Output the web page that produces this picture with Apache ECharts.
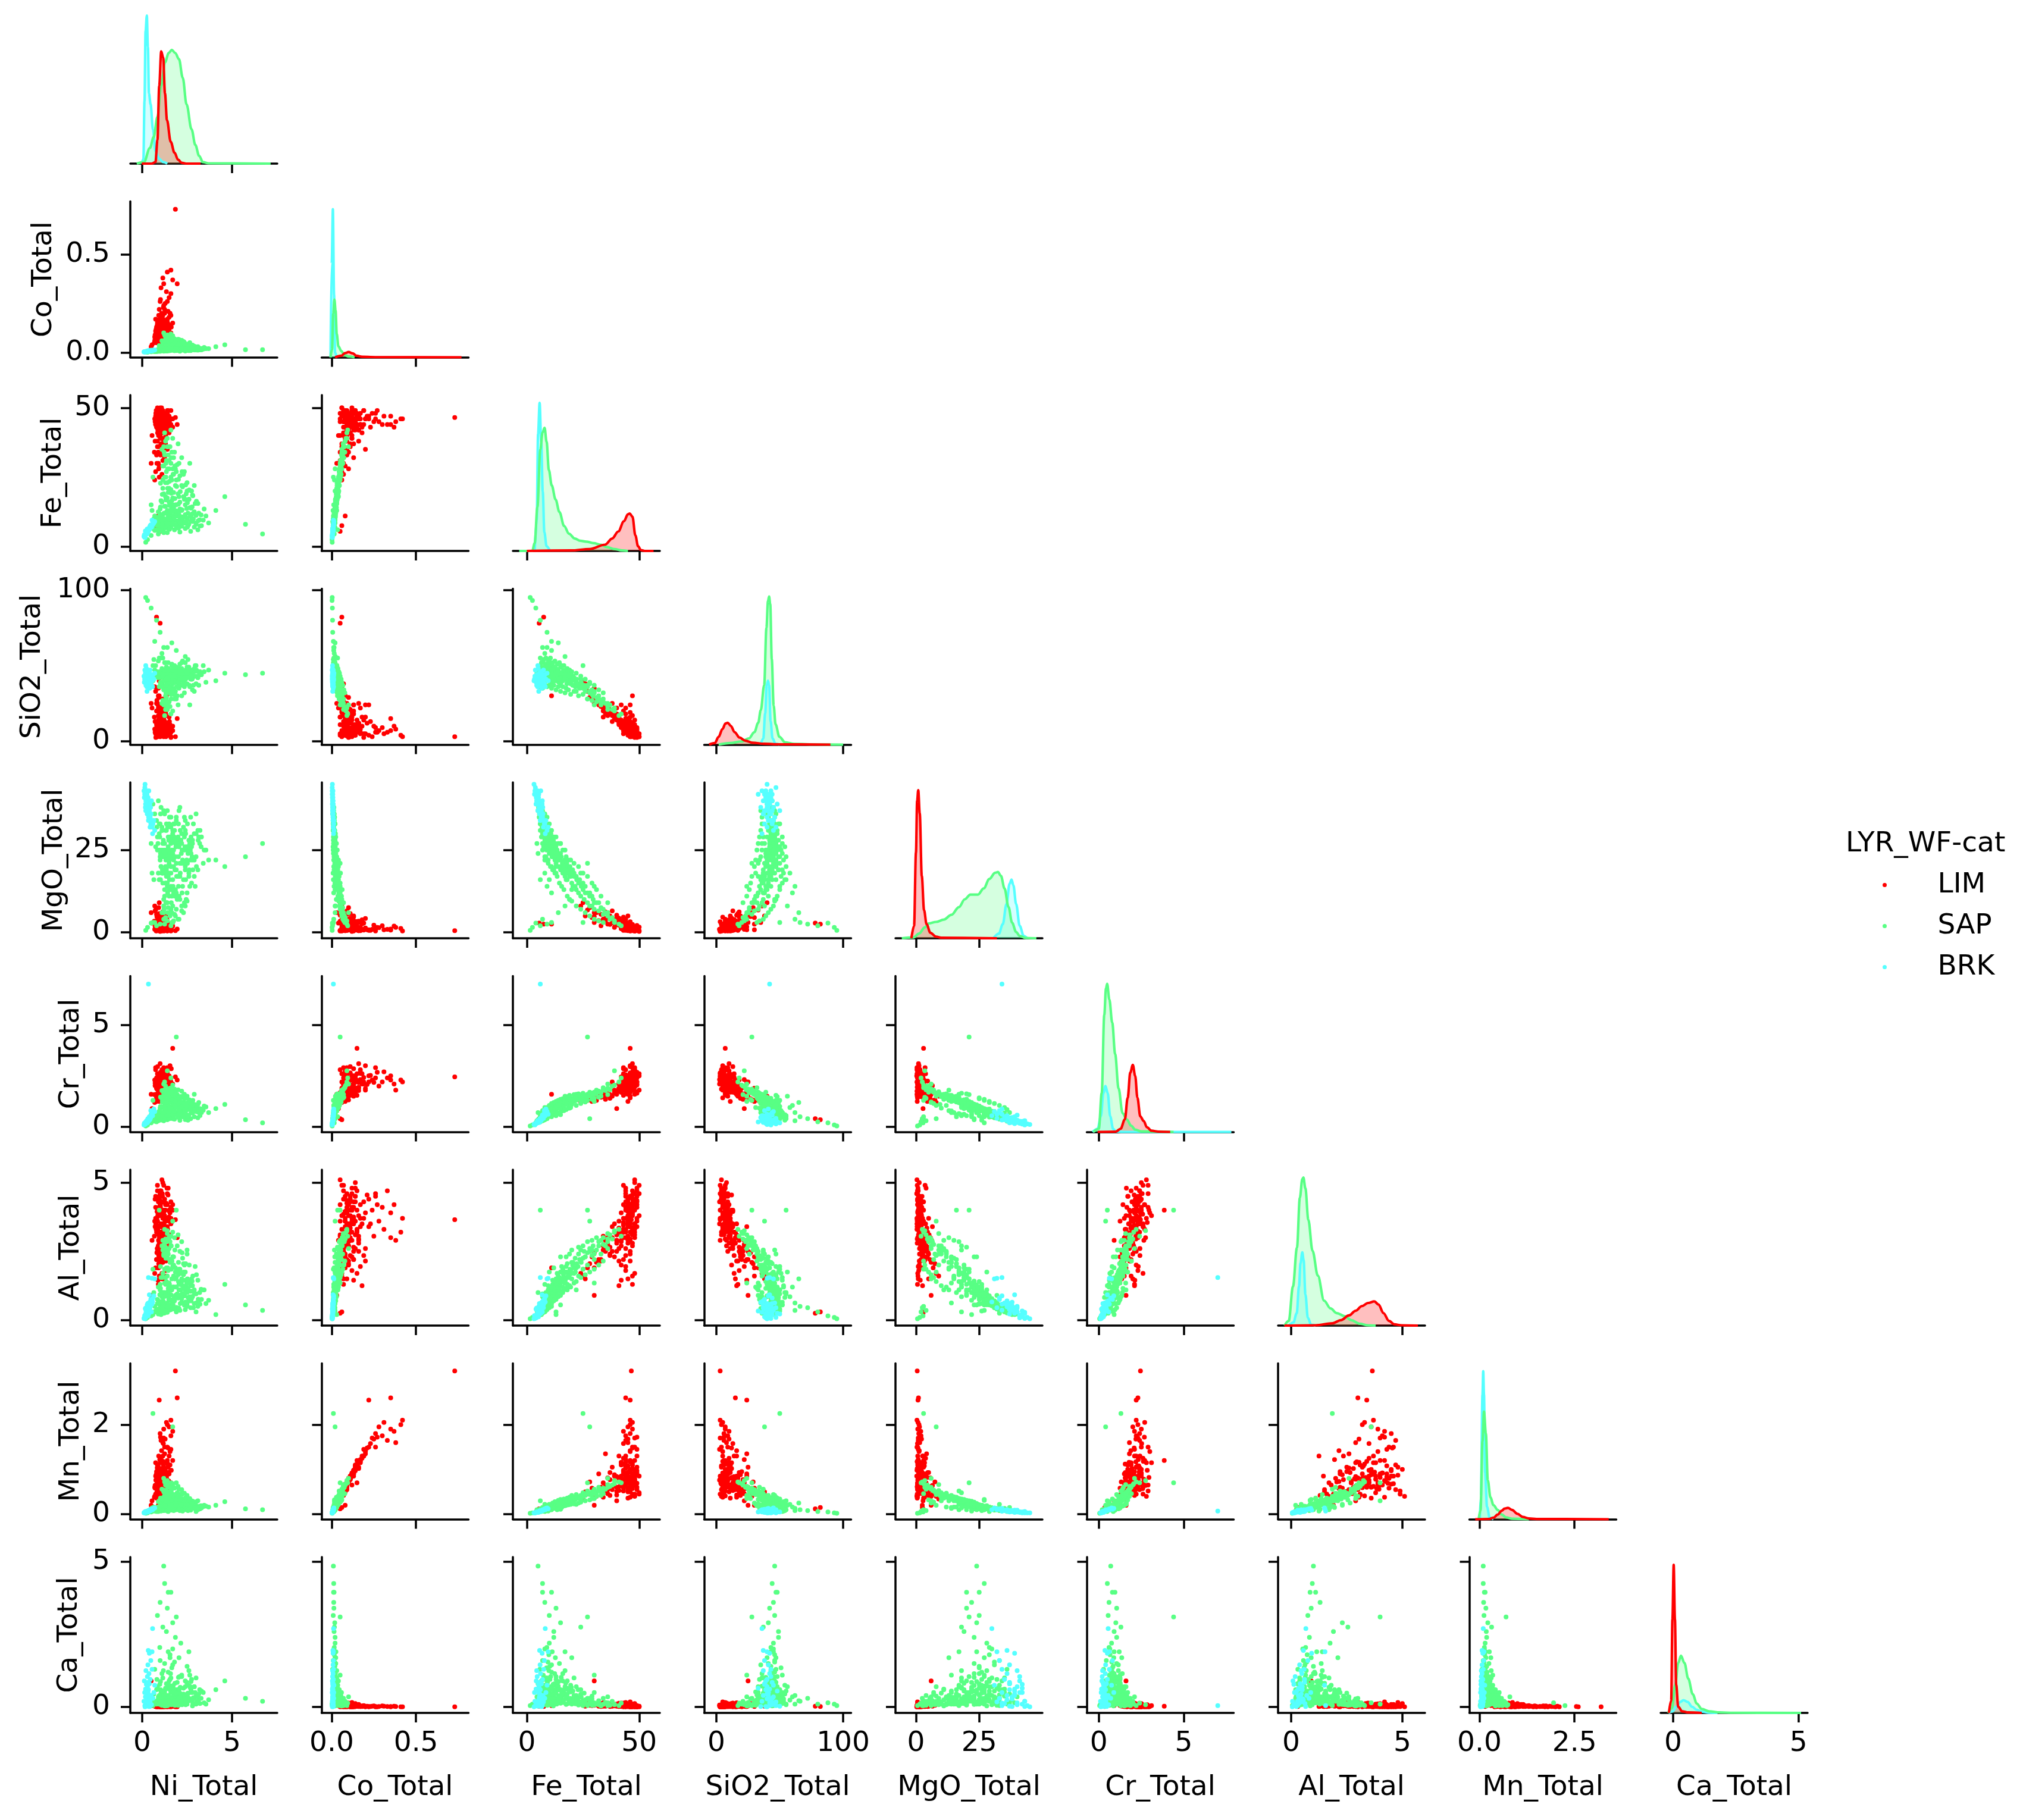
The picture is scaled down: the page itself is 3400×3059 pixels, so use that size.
<!DOCTYPE html>
<html><head><meta charset="utf-8">
<script src="https://cdn.jsdelivr.net/npm/echarts@6/dist/echarts.min.js"></script>
<style>html,body{margin:0;background:#fff}#c{width:3400px;height:3059px}</style></head>
<body><div id="c"></div>
<script>
const variables=['Ni_Total','Co_Total','Fe_Total','SiO2_Total','MgO_Total','Cr_Total','Al_Total','Mn_Total','Ca_Total'];
const xTicks=[[0,5],[0,.5],[0,50],[0,100],[0,25],[0,5],[0,5],[0,2.5],[0,5]];
const yTicks=[[],[0,.5],[0,50],[0,100],[0,25],[0,5],[0,5],[0,2],[0,5]];
const xDecimals=[0,1,0,0,0,0,0,1,0];
const yDecimals=[0,1,0,0,0,0,0,0,0];
const xLimits=[[-.66,7.52],[-.06,.812],[-6.2,59.2],[-9.6,106.3],[-8.1,50],[-.71,7.94],[-.59,6.02],[-.265,3.6],[-.5,5.36]];
const yLimits=[[0,100],[-.024,.77],[-1.6,54.6],[-2.2,100.8],[-1.8,45.6],[-.245,7.39],[-.2,5.47],[-.113,3.37],[-.2,5.16]];
const yNameGaps=[0,122,106,141,104,76,76,76,79];

// columns: Ni, Co, Fe, SiO2, MgO, Cr, Al, Mn, Ca
const limRows=[
[1.1,.09,47,6,1.2,2.1,3.9,.7,.03],[.9,.11,48,5,.8,2.3,4.4,.8,.02],[1.3,.13,46,8,1.5,2,3.6,.95,.05],[1,.07,49,4,.6,2.4,4.7,.55,.01],
[.8,.1,45,9,2,1.9,3.4,.75,.04],[1.2,.15,44,10,1.8,2.2,3.2,1.05,.06],[1.5,.12,47,7,1,2.5,4,.9,.03],[.85,.06,50,3,.5,2.6,4.9,.45,.02],
[1.05,.08,43,11,2.5,1.8,3,.6,.08],[1.4,.17,48,6,.9,2.7,4.2,1.2,.02],[.95,.14,46,7,1.3,1.7,4.5,1,.04],[1.15,.19,49,5,.7,2.2,3.7,1.3,.03],
[.75,.09,47,5,1.1,2.9,4.1,.65,.02],[1.25,.11,45,8,2.2,1.6,3.8,.85,.1],[1.6,.1,46,6,1.6,2.4,3.5,.7,.13],[.9,.13,44,9,3,2,4.3,.9,.05],
[1.1,.05,48,4,.4,2.8,5.1,.4,.01],[1.35,.16,42,12,3.4,1.9,2.9,1.15,.09],[.7,.08,46,8,.9,2.3,3.6,.6,.06],[1,.12,50,3,.3,2.5,4.6,.85,.01],
[1.2,.1,47,9,1.9,2.1,3.3,.8,.07],[.95,.07,45,10,2.7,2,2.8,.5,.11],[1.45,.14,49,4,.8,2.2,4.8,1.05,.02],[1.05,.18,43,10,3.8,2.6,3.5,1.25,.04],
[.8,.12,48,7,1.4,2.4,3.2,.9,.03],[1.3,.09,44,12,2.1,1.8,4,.65,.12],[1.55,.2,46,5,1.2,3,3.9,1.4,.02],[.85,.15,47,6,.7,1.9,4.7,1.1,.05],
[1.15,.06,48,6,1,2.2,3.1,.45,.08],[1,.1,45,7,1.7,2.3,4.2,.75,.03],[1.25,.22,47,4,.6,2.5,4.4,1.5,.01],[.9,.09,42,13,2.9,1.7,2.7,.7,.14],
[1.4,.08,49,5,.5,2.6,3.4,.6,.04],[1.1,.13,46,9,2.3,2.1,2.5,.95,.09],[.75,.17,44,8,1.6,2.8,3.7,1.15,.02],[1.2,.24,48,3,.9,2.3,4,1.7,.03],
[1,.26,46,6,1.1,2.4,4.5,1.8,.01],[1.5,.28,45,7,1.4,2,3.6,1.95,.02],[1.35,.31,47,5,.8,2.7,3.3,2.05,.03],[1.6,.3,44,9,2,2.2,4.1,1.75,.04],
[1.2,.35,47,7,.7,2.5,3.9,1.9,.02],[1.4,.41,46,4,1.2,2.3,3.2,2,.01],[1.15,.38,45,8,1.5,1.8,2.9,1.6,.02],[1.7,.37,43,10,1.9,2.1,4.2,1.85,.03],
[1.6,.42,46,3,.4,2.2,3.7,2.1,.01],[1.05,.33,44,6,.9,2.4,4.7,1.65,.02],[.95,.22,46,24,.8,2.2,3.4,2.55,.02],[1.95,.35,44,15,1,2.3,3,2.6,.01],
[1.85,.73,46.5,3,.5,2.45,3.65,3.2,.01],[1.7,.15,46,7,3,3.85,4,1.2,.03],
[1,.09,40,15,3.5,1.7,2.8,.6,.1],[1.2,.08,38,17,3,1.5,3,.55,.05],[.85,.07,36,20,4.5,1.6,2.6,.55,.09],[1.1,.11,41,14,2.2,1.9,3.2,.8,.03],
[1.3,.06,37,19,5,1.4,2.4,.42,.12],[.9,.1,34,22,4,1.5,2.7,.7,.06],[1.05,.12,39,16,1.5,1.8,3.5,.85,.04],[.8,.09,33,25,5.5,1.45,2.2,.6,.11],
[1.4,.07,35,21,3.5,1.35,2.5,.5,.15],[1.15,.05,31,28,6,1.3,2.1,.4,.08],[.95,.08,29,30,4.5,1.25,2.3,.58,.05],[.75,.06,27,33,6.8,1.3,1.9,.45,.13],
[1,.1,42,12,1.3,2.2,2,.8,.04],[1.2,.09,45,15,.9,2,1.5,.55,.02],[.9,.07,47,17,.6,2.1,1.3,.42,.03],[1.3,.12,44,18,1.1,2.3,1.8,.65,.05],
[.8,.13,43,20,2,1.9,2.2,.95,.01],[1.1,.15,48,14,.7,2.6,1.7,.7,.03],[1,.08,46,19,1.4,2,2.4,.5,.06],[1.5,.18,41,16,2.6,2.1,1.25,1.3,.02],
[.85,.16,38,25,3,2.2,2.5,1.05,.04],[1.25,.2,35,24,4.2,1.8,2.6,1.35,.03],[1.55,.14,42,11,1.9,1.7,3.1,1.1,.09],[1.35,.06,47,30,.8,1.9,1.6,.45,.02],
[.7,.06,24,36,8,1.2,1.7,.4,.1],[.9,.05,30,35,3,1.4,1.9,.36,.06],[1.1,.07,26,38,5,1.35,1.5,.5,.03],[.75,.11,44,6,2.4,2.3,4.5,.85,.09],
[1,.16,47,10,1,3.1,3.8,1.15,.05],[.8,.05,45,11,.5,1.25,3.6,.36,.07],[1.2,.07,43,7,3.6,2.9,4.9,.52,.02],[1.15,.14,48,8,1.3,2.5,5,1,.12],
[1.4,.26,48,9,.4,2.9,4.6,1.5,.02],[1.6,.19,49,2.5,.9,2.1,4.3,1.45,.04],[.95,.05,25,40,9,1.5,1.6,.34,.2],[.55,.04,40,22,2.8,.9,2.9,.3,.05],
[.8,.06,7.5,82,2.5,.35,.3,.15,.02],[1,.05,5.5,78,2.8,.4,.25,.12,.03],[.9,.08,11,30,2.5,1.6,1.9,.2,.05],[.5,.03,30,25,6,1.6,.9,.2,.9],
[.82,.08,46,9,.5,1.5,3.7,.62,.02],[.92,.1,47,4,2.4,1.85,3.1,.72,.06],[1.02,.12,49,7,1.5,1.65,4.1,.92,.01],[1.12,.09,44,6,.6,2.55,4.6,.68,.09],
[1.22,.13,48,11,.4,1.75,3.5,.98,.04],[1.32,.11,46,3,3.2,2.65,2.9,.78,.02],[1.42,.15,43,8,.8,1.55,3.3,1.12,.07],[.72,.07,45,6,1.9,2.15,4.4,.58,.03],
[.78,.12,49,8,2.1,2.05,3.6,.88,.05],[.88,.09,42,9,1.2,2.45,3.9,.66,.11],[.98,.16,47,12,.5,1.95,2.8,1.02,.02],[1.08,.06,50,5,1.6,1.8,3.8,.48,.03],
[1.18,.14,45,4,2.6,2.35,4.3,1.08,.08],[1.28,.08,48,10,.7,2.75,3,.64,.02],[1.38,.12,44,7,4,1.62,4.8,.87,.16],[1.48,.1,47,8,1.8,2.05,2.7,.74,.04],
[.86,.11,46,13,1,2.95,4,.82,.01],[.96,.08,43,5,4.6,2.25,3.2,.59,.06],[1.06,.14,49,9,1.1,1.72,4.5,.97,.02],[1.16,.17,46,5,.5,2.62,3.4,1.18,.03],
[1.26,.07,41,13,3.1,2.12,2.6,.53,.13],[1.36,.13,45,11,5,1.9,3.7,.93,.05],[.76,.1,48,2.5,.9,2.32,3.5,.76,.07],[.84,.14,44,11,1.4,2.42,2.6,1.03,.02],
[.94,.05,40,16,5.2,1.68,3.1,.43,.1],[1.04,.11,37,21,2.4,1.58,2.35,.77,.04],[1.14,.09,35,18,6.2,1.75,2.9,.62,.08],[1.24,.13,32,24,3.6,1.5,2.2,.9,.03],
[.82,.07,30,27,4.8,1.38,2.45,.5,.12],[.92,.1,28,29,7.5,1.32,2.05,.72,.06],[1.02,.08,33,23,2,1.48,2.15,.57,.02],[1.12,.12,39,19,4,1.72,2.3,.88,.07],
[1.22,.06,36,22,2.5,1.62,2.75,.46,.05],[1.32,.1,41,17,3.3,1.82,2.15,.73,.09],[.72,.09,38,13,6.5,2.02,3.4,.64,.03],[.68,.05,34,16,3.4,1.58,3.05,.38,.15],
[.88,.13,42,24,1.7,2.12,1.45,.85,.02],[.98,.17,44,22,.9,2.32,1.95,1.22,.03],[1.08,.2,46,16,1.3,1.88,2.15,1.42,.01],[1.18,.23,43,13,.6,2.52,3.5,1.58,.02],
[1.28,.25,45,10,2.2,2.18,3.05,1.68,.04],[1.02,.27,49,6,1.5,2.68,4.2,1.72,.01],[1.44,.21,47,12,.8,2.08,4.55,1.48,.03],[.92,.19,44,14,2.8,2.42,2.35,1.3,.05],
[1.3,.05,46,5,.6,1.42,4.2,.38,.18],[.78,.06,48,7,.4,1.6,3.3,.41,.06],[1.52,.08,45,13,.7,2.2,3.95,.56,.02],[1.62,.13,43,9,1.2,2.85,3.55,.98,.08],
[.87,.1,46,6,1,2.2,3.8,.78,.02],[.97,.12,47,8,1.6,2.05,4,.88,.03],[1.07,.09,45,7,.8,2.3,3.5,.71,.05],[1.17,.11,48,5,1.3,1.95,4.3,.83,.01],
[1.27,.14,46,9,2,2.4,3.6,1,.04],[1.37,.1,44,6,1.1,2.1,3.3,.79,.06],[.83,.08,47,10,1.7,1.85,3.95,.66,.02],[.93,.13,45,5,2.3,2.5,4.1,.92,.03],
[1.03,.1,48,7,.7,2.15,3.4,.76,.08],[1.13,.08,46,4,1.4,2.35,4.5,.67,.02],[1.23,.12,43,9,2.6,1.98,3.7,.9,.05],[1.33,.09,47,6,.9,2.25,4.25,.73,.1],
[.89,.15,44,11,3.3,2.28,3.25,1.08,.03],[.99,.09,49,3.5,.6,2.45,4.35,.69,.01],[1.09,.16,42,10,1.5,1.78,3.05,1.16,.07],[1.19,.07,47,11,2.1,2.58,3.85,.57,.02],
[1.29,.11,41,12,4.3,1.88,3.35,.82,.12],[1.39,.16,46,7,.5,2.18,2.95,1.17,.04],[1.49,.13,45,9,1.2,2.38,3.75,.94,.06],[.81,.1,43,8,2.2,2.08,3.45,.77,.14],
[.91,.12,40,14,3.9,1.76,2.9,.84,.03],[1.01,.08,39,15,2.7,1.66,3.2,.63,.06],[1.11,.13,37,18,4.7,1.56,2.65,.93,.02],[1.21,.1,42,14,1.1,1.96,2.85,.79,.09],
[1.31,.07,40,18,2.3,1.6,2.5,.51,.04],[.86,.08,41,11,3,1.9,3.6,.61,.05],[.96,.11,36,17,5.7,1.55,3,.81,.11],[1.06,.06,34,20,3.8,1.48,2.55,.47,.03]
];
const sapRows=[
[.9,.006,4.5,44,40,.3,.22,.06,.35],[1.4,.008,5,46,37,.35,.28,.07,.8],[2.1,.007,5.2,43,38,.32,.35,.08,.25],[2.7,.01,5.5,41,35,.4,.45,.09,.5],
[.7,.005,5.8,47,36,.28,.3,.07,1.3],[1.8,.009,6,50,33,.38,.4,.09,.6],[3.1,.012,6,42,31,.45,.5,.1,.2],[1.2,.007,6.3,44,37,.42,.25,.08,.45],
[2.4,.008,6.5,45,34,.36,.38,.1,.9],[.6,.006,6.5,40,39,.3,.2,.07,.15],[1.6,.011,6.8,43,32,.55,.42,.11,.3],[2.9,.013,7,48,30,.5,.6,.13,.7],
[1,.009,7,46,33,.44,.55,.1,1.6],[1.9,.01,7.2,41,35,.6,.3,.1,.4],[2.2,.012,7.3,52,27,.62,.65,.12,1.1],[3.3,.014,7.5,44,29,.7,.75,.14,.55],
[1.3,.008,7.5,47,31,.48,.48,.09,.25],[.8,.01,7.8,43,34,.55,.35,.11,.6],[1.7,.013,8,45,30,.65,.52,.13,2],[2.6,.01,8,49,28,.58,.7,.12,.3],
[1.5,.012,8.1,42,33,.5,.4,.1,.75],[2,.014,8.3,46,29,.72,.8,.15,.45],[.75,.008,8.3,50,26,.46,.33,.11,.2],[3,.016,8.5,43,30,.75,.62,.14,1],
[1.1,.011,8.5,48,31,.6,.45,.12,.35],[2.3,.012,8.7,44,32,.52,.9,.13,.65],[1.65,.015,8.8,51,25,.8,.58,.16,1.35],[2.8,.018,9,46,27,.68,.85,.17,.5],
[1.35,.013,9,41,31,.7,.5,.12,.28],[1.95,.016,9.2,47,28,.63,.95,.15,.85],[.95,.012,9.3,45,30,.77,.68,.14,.4],[2.5,.014,9.5,49,26,.85,.6,.16,.18],
[3.2,.02,9.6,44,27,.9,1,.18,.6],[1.55,.015,9.8,46,29,.66,.72,.14,1.8],[2.15,.018,10,42,28,.82,1.1,.19,.33],[1.25,.013,10,52,24,.7,.55,.15,.5],
[2.75,.02,10.3,45,26,.92,.78,.17,.95],[1.75,.017,10.5,48,25,.75,1.2,.18,.42],[.85,.014,10.5,44,29,.62,.6,.16,.7],[2.35,.016,10.8,40,29,.88,.88,.15,.25],
[1.45,.019,11,46,26,.8,1.05,.2,1.2],[3,.022,11.2,50,23,1,.95,.19,.38],[2.05,.018,11.5,43,26,.95,1.3,.2,.6],[1.15,.016,11.5,47,27,.72,.7,.17,.15],
[2.55,.021,12,45,24,.9,1.15,.22,.48],[1.85,.02,12,49,23,1.05,.82,.19,2.4],[1.35,.018,12.3,42,25,.85,1.4,.21,.8],[2.9,.024,12.5,46,22,1.1,1,.23,.3],
[1.6,.02,13,44,24,.78,.92,.2,.55],[2.2,.023,13,48,21,1,1.5,.24,1.05],[1,.017,13.5,45,23,.92,1.1,.19,.22],[2.7,.025,14,43,22,.98,1.25,.26,.68],
[1.75,.022,14,47,20,1.15,1.6,.23,.4],[1.25,.024,14.5,41,23,1.05,1.35,.25,1.5],[2.4,.026,15,44,20,.95,1.05,.22,.27],[1.9,.021,15,49,19,1.2,1.75,.28,.6],
[3.1,.03,15.5,42,19,1.1,1.45,.3,.35],[1.5,.025,16,46,18,1,1.2,.24,.9],[2.1,.028,16,40,21,1.25,1.85,.29,.2],[1.05,.022,16.5,44,20,.95,1.55,.26,.5],
[2.6,.03,17,43,18,1.15,1.4,.31,1.25],[1.7,.032,17.5,47,16,1.3,1.95,.3,.3],[1.3,.027,18,40,18,1.1,1.3,.28,.65],[2.3,.034,18,44,16,1.22,2.05,.33,.45],
[2,.031,19,42,17,1.35,1.65,.32,.18],[1.45,.036,19.5,38,17,1.18,1.8,.35,.75],[2.75,.035,20,41,15,1.28,1.5,.3,.28],[1.6,.033,20.5,43,14,1.4,2.1,.37,.55],
[1.15,.03,21,37,18,1.25,1.7,.31,1],[2.25,.04,21.5,40,14,1.45,2.25,.34,.22],[1.85,.038,22,39,13,1.3,1.9,.4,.4],[1.4,.035,23,36,15,1.42,1.6,.36,.15],
[2.5,.042,23,38,12,1.5,2.4,.38,.32],[1.65,.045,24,41,11,1.35,2.15,.42,.6],[1.25,.04,25,35,13,1.55,1.85,.4,.2],[2.1,.05,25.5,37,10,1.48,2.5,.45,.48],
[1.75,.046,26,33,12,1.4,2.3,.43,.12],[2.35,.052,27,36,9,1.6,2,.47,.3],[1.5,.048,28,32,11,1.52,2.6,.44,.25],[1.2,.055,29,34,8,1.65,2.35,.5,.38],
[1.95,.06,29.5,30,10,1.58,2.7,.48,.14],[1.6,.058,30,33,7,1.7,2.2,.52,.5],[1.35,.052,31,29,9,1.62,2.55,.46,.1],[2.2,.062,32,30,6.5,1.75,2.85,.55,.22],
[1.45,.065,33,26,7.5,1.68,2.4,.5,.08],[1.8,.07,34,28,5.5,1.85,3,.58,.3],[1.1,.06,35,25,6,1.78,2.7,.56,.16],[1.55,.075,36,23,5,1.9,2.85,.6,.12],
[2,.068,37,24,4,1.82,3.1,.62,.06],[1.3,.08,38,21,4.5,2,2.95,.65,.2],[1.7,.085,39,20,3,2.05,3.2,.68,.1],[1.25,.09,41,17,2.5,2.2,3.3,.72,.05],
[1.6,.095,42,18,2,2.4,3.05,.7,.14],[1.4,.09,39,22,3.5,2.75,3.25,.75,.08],[1.2,.1,36,24,6,2.1,2.6,.8,.35],
[2.45,.028,19,46,10,.92,1.25,.3,.18],[3.4,.018,9.5,50,21,.82,1.1,.17,.5],[3.55,.02,11,39,25,.98,.6,.18,.1],[3.7,.02,8.5,47,22,.7,.72,.16,.25],
[2.9,.032,22,33,17,1.6,1.1,.22,.7],[2.65,.05,30,24,14,1.25,1.35,.35,1.1],[.55,.008,13,44,18,.55,.3,.14,.12],[.5,.012,15,38,27,.6,.55,.11,.3],
[1.1,.015,8,58,18,.95,.85,.22,.24],[1.4,.014,9,62,14,.7,.62,.13,.1],[1.9,.012,11,60,12,1.05,1.2,.16,.35],[1.65,.02,14,65,6,1.2,1.5,.25,.22],
[2.4,.022,17,56,8,1.5,1.75,.2,.7],[.65,.01,10,54,16,.6,1,.16,.45],[.3,.002,2.5,93,1.5,.1,.1,.03,.1],[.2,.003,1.5,95,.6,.05,.05,.02,.05],
[.5,.004,4,88,2.8,.2,.15,.05,.15],[.8,.005,6,80,2,.25,.3,.06,.1],[1,.006,9,72,2.5,.4,.45,.08,.3],[.7,.01,11,66,3,.5,.5,.1,.2],[1.2,.012,7,62,4,.3,.35,.08,.4],
[6.7,.015,4.5,45,27,.2,.35,.1,.2],[5.75,.015,8,44,23,.35,.55,.12,.3],[4.6,.04,18,45,20,1.1,1.3,.28,.9],[4.1,.03,13,40,22,.9,.2,.2,.6],
[1.9,.05,27,28,21,4.4,4,.7,3.1],[1.2,.01,5,46,24,.7,1,.1,4.85],[1.25,.012,7,44,27,.5,.95,.1,4.25],[1.45,.011,7,48,25,.8,.85,.13,3.95],
[1.6,.014,11,47,20,.95,1.1,.15,3.95],[1,.012,8,45,22,.6,1.3,.11,3.6],[1.4,.013,13,42,20,1.05,.9,.17,3.4],[.85,.009,10,46,25,.55,.75,.12,3.15],
[1.7,.018,15,41,24,1,2.3,.22,2.9],[1.15,.016,24,37,18,1.3,2.55,.32,2.75],[1.35,.014,12,49,19,.9,1.9,.18,2.6],[2.6,.025,17,43,17,1.2,1.4,.26,1.9],
[2.15,.02,10,45,28,.75,1.75,.15,2.2],[1.55,.02,20,40,13,1.35,2.1,.3,1.7],[.95,.035,6,55,16,.5,4,.3,.1],[1.7,.02,28,38,8,.4,3.6,1.95,.15],
[.6,.01,25,50,3,1.3,1.85,2.25,.05],
[.95,.008,6,36,33,.55,.25,.12,.1],[1.45,.01,6.5,52,29,.48,.55,.06,.4],[2.05,.012,7,35,37,.7,.42,.15,.15],[2.55,.011,7.5,54,26,.33,.82,.08,.75],
[3,.013,8,38,36,.85,.3,.06,.1],[1.15,.014,8.5,55,23,.4,1,.2,.55],[1.6,.016,9,36,35,.95,.38,.09,1],[2.25,.015,9.5,53,22,.5,1.25,.07,.2],
[2.85,.019,10,37,33,1.05,.45,.22,.32],[1.05,.013,10.5,55,20,.55,.95,.1,.08],[1.7,.018,11,35,31,1.15,.62,.12,1.45],[2.4,.02,11.5,52,19,.62,1.45,.25,.12],
[3.15,.024,12,37,29,1.2,.7,.13,.45],[.9,.016,12.5,53,18,.6,1.2,.28,.28],[1.55,.022,13,34,29,1.25,.75,.14,.95],[2.1,.021,13.5,51,17,.65,1.7,.1,.16],
[2.65,.028,14,36,27,1.3,.85,.31,.72],[1.3,.019,14.5,52,15,.7,1.55,.16,.33],[1.85,.027,15,33,27,1.35,.9,.33,.13],[2.95,.03,15.5,50,14,.78,1.95,.15,.5],
[1.1,.022,16,36,25,1.38,1,.18,1.15],[1.65,.031,16.5,50,13,.8,1.1,.34,.24],[2.35,.033,17,32,25,1.42,1.15,.19,.42],[1.4,.03,17.5,35,23,.85,2.3,.2,.09],
[2.05,.037,18,48,11,1.48,1.1,.36,.62],[2.8,.038,18.5,34,22,.92,1.25,.21,.26],[1.2,.028,19,47,10,1.55,2.4,.38,.16],[1.75,.04,19.5,31,22,.95,1.2,.22,.52],
[2.5,.042,20,46,9.5,1.1,2.55,.42,.1],[1.5,.036,21,33,21,1.58,1.35,.23,.35],[2.2,.046,22,45,8,1.05,1.4,.44,.2],[1.3,.034,23,30,20,1.62,2.65,.25,.07],
[1.9,.05,24,43,7,1.15,1.55,.27,.44],[1.6,.052,25,31,18,1.65,2.7,.48,.13],[2.3,.056,26,41,6,1.22,1.65,.3,.25],[1.35,.044,27,28,17,1.3,2.85,.52,.05],
[1.85,.06,28,39,5,1.7,1.75,.32,.17],[1.15,.05,29,27,15,1.35,2.9,.35,.28],[2.05,.066,30,37,4,1.4,1.85,.56,.07],[1.5,.062,31,26,13,1.8,3,.4,.11],
[1.75,.072,32,34,3.5,1.45,2,.6,.2],[1.25,.058,33,24,11,1.5,2.9,.42,.04],[1.65,.078,34,32,3,1.92,2.15,.46,.09],[1.4,.07,36,21,9,1.58,3.15,.66,.15],
[1.35,.02,6.8,45,33,.46,.34,.09,.05],[1.9,.016,7.6,44,34,.6,.46,.11,.08],[2.4,.014,8.4,43,31,.5,.56,.12,.12],[1.1,.012,9.1,47,32,.64,.64,.1,.06],
[1.6,.018,9.9,44,27,.82,.72,.15,.1],[2.2,.022,10.7,46,30,.7,.78,.14,.16],[2.8,.02,11.8,44,28,.86,.86,.18,.04],[1.25,.015,7.1,40,36,.38,.26,.1,.22],
[1.75,.014,7.9,49,33,.42,.44,.08,.18],[2.35,.017,8.7,41,35,.68,.54,.13,.38],[1.05,.013,6.1,45,38,.34,.2,.07,.3],[3.45,.026,13.5,46,25,1.02,1.1,.2,.15],
[2.05,.024,12.7,47,27,.88,.9,.17,1.7],[1.45,.02,11.3,45,24,.9,1.15,.16,1.9],[.98,.015,8.9,43,29,.6,.65,.13,2.05],[1.8,.017,9.4,46,31,.76,.7,.12,1.55],
[2.5,.019,10.2,43,25,.84,1,.19,1.4],
[1.22,.018,12,40,25,.92,.85,.2,.42],[1.72,.02,12.6,42,23,.84,1.2,.18,.74],[2.22,.022,13.2,44,25,1.02,.95,.21,.26],[2.72,.024,13.8,47,24,1.08,1.05,.24,.58],
[1.02,.02,14.2,39,24,1,1.15,.2,.88],[1.52,.022,14.8,45,22,.92,1.3,.25,.34],[2.02,.025,15.3,39,23,1.12,1.4,.27,1.02],[2.52,.028,15.8,45,21,1.18,1.5,.26,.46],
[3.02,.026,16.3,47,20,1.08,1.65,.28,.16],[1.32,.024,16.8,41,22,1.2,1.35,.29,.62],[1.82,.027,17.3,44,19,1.26,1.5,.27,.82],[2.32,.03,17.8,38,21,1.14,1.75,.3,.36],
[2.82,.032,18.3,42,19,1.3,1.6,.29,.12],[1.12,.029,18.8,43,19,1.22,1.55,.33,.55],[1.62,.032,19.2,39,20,1.36,1.85,.31,.3],[2.12,.034,19.8,44,18,1.25,1.7,.34,.68],
[2.62,.036,20.4,37,19,1.33,2,.32,.22],[1.42,.033,21,42,17,1.38,1.9,.35,.4],[1.92,.036,21.6,36,17,1.44,1.75,.33,.11],[2.42,.04,22.2,41,16,1.4,2.05,.37,.28],
[1.02,.032,22.8,38,16,1.46,1.95,.36,.6],[1.52,.038,23.5,35,16,1.5,2.2,.38,.18],[2.02,.042,24.2,39,14,1.42,2.1,.41,.34],[1.32,.04,25,37,15,1.48,2.25,.39,.1],
[1.72,.046,26,34,14,1.55,2.3,.42,.24],[2.22,.05,27,37,12,1.5,2.45,.46,.08],[1.42,.046,28,33,12,1.62,2.5,.47,.3],[1.82,.054,29,31,11,1.6,2.55,.44,.06],
[1.32,.056,30,32,9,1.68,2.4,.5,.15],[1.62,.062,32,28,9,1.72,2.7,.53,.08],[1.22,.06,34,26,7,1.8,2.75,.54,.1],[1.42,.07,36,25,6,1.86,2.95,.6,.05],
[1.02,.008,5.6,42,36,.36,.32,.08,.18],[1.52,.009,6.2,46,35,.4,.36,.09,.62],[2.02,.01,6.6,44,33,.46,.44,.1,.28],[2.52,.012,7,42,33,.52,.5,.11,.42],
[3.22,.014,7.4,46,31,.56,.58,.12,.12],[.82,.009,7.6,45,32,.5,.4,.1,.95],[1.12,.01,7.9,43,31,.54,.46,.11,.55],[1.42,.011,8.2,46,32,.56,.5,.12,.16],
[1.72,.012,8.4,44,28,.6,.56,.13,.72],[2.12,.012,8.6,42,31,.62,.6,.12,.34],[2.42,.014,8.8,47,30,.66,.66,.14,.08],[2.72,.015,9.1,43,29,.7,.7,.15,.88],
[3.12,.017,9.3,46,28,.72,.76,.15,.22],[.88,.011,9.6,42,27,.66,.6,.14,.62],[1.18,.013,9.8,44,28,.7,.68,.14,1.25],[1.48,.014,10.1,47,28,.74,.76,.15,.38],
[1.78,.015,10.3,43,29,.78,.82,.16,.2],[2.08,.016,10.6,45,27,.8,.9,.17,1.05],[2.38,.017,10.9,42,26,.84,.98,.17,.14],[2.68,.018,11.1,47,25,.86,1.05,.18,.66],
[3.28,.021,11.4,44,26,.88,1.12,.19,.3],[.98,.015,11.7,45,25,.78,.92,.17,.78],[1.28,.016,12.1,47,24,.86,1,.18,.18],[1.58,.018,12.4,43,23,.9,1.08,.19,1.15],
[1.88,.019,12.9,46,26,.94,1.2,.2,.48],[2.18,.02,13.3,41,24,.98,1.28,.21,.1],[2.48,.022,13.7,46,22,1.02,1.34,.22,.85],[2.78,.024,14.3,41,23,1.06,1.42,.23,.24]
];
const brkRows=[
[.25,.006,5.5,41,38,.3,.35,.06,.3],[.3,.007,5.8,40,39,.35,.45,.07,.45],[.22,.005,5,42,40,.25,.3,.05,.15],[.35,.008,6,39,37,.4,.5,.08,.6],
[.28,.006,6.3,43,36,.3,.55,.07,.25],[.2,.004,4.5,44,42,.2,.2,.04,.1],[.4,.009,6.5,38,37,.45,.4,.08,.8],[.33,.007,5.2,41,41,.28,.15,.05,.5],
[.18,.005,5.6,45,38,.22,.42,.06,.35],[.45,.01,7,40,35,.5,.6,.09,.95],[.26,.006,4.8,36,43,.3,.28,.05,.2],[.38,.008,6.1,42,36,.38,.48,.07,1.15],
[.5,.009,7.2,37,36,.55,.7,.1,.4],[.15,.003,3.8,47,44,.15,.1,.03,.05],[.3,.007,5.4,40,40,.33,.5,.06,.7],[.55,.011,7.5,43,34,.62,.58,.1,1.3],
[.24,.005,5.1,48,39,.26,.25,.05,.55],[.42,.009,6.7,35,38,.46,.65,.08,.02],[.32,.008,5.9,41,37,.4,.38,.07,1.45],[.6,.012,8,44,33,.7,.8,.12,.3],
[.12,.004,4.2,39,41,.18,.08,.04,.9],[.36,.007,6.4,46,35,.35,.62,.08,.12],[.48,.01,7.8,38,33,.8,.75,.11,1.6],[.27,.006,5.3,33,42,.24,.33,.05,.65],
[.65,.012,8.5,41,34,.88,.88,.13,.5],[.2,.005,4.9,50,37,.2,.22,.05,.03],[.4,.008,6.8,42,39,.5,.92,.09,1.85],[.34,.007,5.7,37,36,.36,.55,.07,1.95],
[.7,.013,9,45,31,.75,1.5,.14,.75],[.55,.01,9.5,40,32,.62,1.52,.12,1.9],[.35,.01,6,42,34,7,1.55,.07,.05],[.58,.011,8.2,36,30,.55,.66,.1,2.7],
[.16,.004,3.2,40,45,.12,.05,.03,.01],[.1,.003,3.6,43,43,.1,.06,.03,.2],[.44,.009,7.4,47,32,.42,.45,.1,.18],[.52,.008,6.9,44,40,.58,.3,.09,.08],
[.23,.006,5.2,38,42,.27,.12,.04,.78],[.29,.005,4.6,43,41,.2,.18,.05,1.05],[.37,.007,6.2,39,43,.3,.24,.06,.02],[.43,.008,6.6,41,39,.36,.32,.07,.4],
[.19,.004,4.1,42,39,.16,.4,.04,.62],[.31,.006,5.6,44,37,.24,.6,.06,.85],[.47,.009,7.1,40,38,.44,.52,.08,.28],[.14,.003,3.4,41,42,.14,.16,.03,.5],
[.21,.005,4.4,37,40,.22,.44,.05,1.25],[.39,.008,6,45,34,.34,.36,.07,.14]
];
const kdeNiLIM=[[-.02,0],[.53,0],[.74,1],[.85,15],[.95,50],[1.06,72],[1.17,68],[1.27,45],[1.38,28],[1.59,14],[1.8,7],[2,2.5],[2.2,.5],[2.45,0],[3.25,0]];
const kdeNiSAP=[[-.3,0],[.1,1],[.43,10],[.64,17],[.85,30],[1.06,50],[1.27,65],[1.48,71],[1.65,73],[1.84,71],[2.05,67],[2.26,55],[2.47,38],[2.75,22],[2.96,12],[3.17,5],[3.38,1],[3.7,.2],[7.15,0]];
const kdeNiBRK=[[-.02,0],[.07,3],[.13,40],[.19,85],[.26,95],[.32,75],[.38,45],[.47,38],[.6,22],[.74,8],[.95,3],[1.17,1],[1.4,0]];
const kdeCoLIM=[[.02,0],[.057,1],[.08,2.7],[.1,3.4],[.125,2.5],[.147,1],[.18,.3],[.28,.1],[.77,0]];
const kdeCoSAP=[[-.007,0],[.002,5],[.009,28],[.016,37],[.023,30],[.03,15],[.04,7],[.057,4],[.075,1.5],[.1,.5],[.136,0]];
const kdeCoBRK=[[-.007,0],[0,60],[.007,95],[.014,40],[.02,3],[.03,0]];
const kdeFeLIM=[[0,0],[19.6,.3],[28,1.2],[34.8,4],[38,8],[40.7,12.5],[43.2,19],[45,23.5],[45.8,24],[47,22],[48.3,10],[49.5,3],[50.8,.5],[52.5,0],[56.4,0]];
const kdeFeSAP=[[-3.4,0],[2.4,0],[3.5,5],[4.7,28],[6,65],[7,76],[7.9,79],[8.8,70],[9.8,52],[11.1,42],[12.8,33],[14.5,25],[16.6,16],[18.8,11],[21.3,8],[23.8,6.5],[26.4,6],[29.7,5],[33,4],[35.6,2.5],[39,1.2],[42.4,.3],[45,0]];
const kdeFeBRK=[[3.5,0],[4.4,20],[5,75],[5.7,95],[6.4,70],[7.1,38],[7.8,12],[8.8,3],[10.3,0]];
const kdeSiLIM=[[-5.7,0],[-1.2,1],[1.8,5],[4.8,10],[7.2,13.5],[9,14],[11.4,12],[14.4,8],[18.3,4.5],[22.8,2.5],[28.7,1.2],[37.7,.5],[49.7,.2],[90,0]];
const kdeSiSAP=[[1.8,0],[10.8,1],[19.8,2],[25.7,4],[30,8],[33,14],[35,22],[37.7,38],[39.5,75],[40.7,92],[41.6,95],[42.5,90],[43.7,55],[45.2,25],[46.7,13],[49.7,5],[54.2,1.5],[61.7,.4],[79.6,.1],[100,0]];
const kdeSiBRK=[[35,0],[37,4],[38.5,20],[39.7,38],[40.7,41],[41.6,38],[42.8,15],[44.3,4],[46.7,.5],[49.7,0]];
const kdeMgLIM=[[-1.8,0],[-.75,8],[0,55],[.45,88],[.9,95],[1.5,80],[2.3,40],[3.2,18],[4.2,9],[5.7,3.5],[8,1],[10,.3],[32,0]];
const kdeMgSAP=[[-5.6,0],[-1,.5],[1.2,3],[3.5,7],[5,9.5],[8,10.5],[11,12],[14,15],[17,20],[19.3,25],[21.5,28],[24.5,28],[26.8,32],[29,38],[31.3,42],[32.4,42.5],[33.6,40],[35,32],[36.6,20],[38,10],[39.6,4],[41,1.5],[43.4,.2],[47.6,0]];
const kdeMgBRK=[[30.6,0],[32.8,3],[34.3,9],[35.8,22],[37,35],[37.8,37.7],[38.5,34],[39.6,22],[41,8],[42.6,1.5],[44,0]];
const kdeCrLIM=[[-.07,0],[1,.2],[1.28,2],[1.53,8],[1.7,22],[1.85,38],[2,43],[2.14,36],[2.27,22],[2.44,10],[2.64,7],[2.83,3],[3.1,.8],[3.5,.2],[4.2,0]];
const kdeCrSAP=[[-.32,0],[0,2],[.17,25],[.32,75],[.42,92],[.49,95],[.62,85],[.79,70],[.96,50],[1.16,28],[1.4,12],[1.65,8],[1.9,4],[2.14,1.5],[2.5,.3],[4.4,0]];
const kdeCrBRK=[[-.37,0],[-.07,2],[.12,10],[.27,25],[.39,29.4],[.52,25],[.67,10],[.84,2],[1,.3],[1.4,0],[7.8,0]];
const kdeAlLIM=[[-.3,0],[1.1,.2],[1.86,1.5],[2.24,3.5],[2.6,6.5],[2.9,9.5],[3.18,12.5],[3.46,14.5],[3.74,15.5],[3.93,13.5],[4.15,8],[4.4,3],[4.64,.8],[4.96,.2],[5.7,0]];
const kdeAlSAP=[[-.3,0],[-.11,3],[.08,25],[.26,50],[.39,82],[.5,94],[.55,95],[.64,88],[.77,68],[.96,48],[1.2,32],[1.48,16],[1.77,11],[2.05,8],[2.42,6],[2.7,3.5],[3.08,1.2],[3.46,.2],[3.8,0]];
const kdeAlBRK=[[-.1,0],[.1,2],[.25,8],[.35,25],[.42,40],[.5,47],[.56,42],[.64,20],[.75,5],[.9,.5],[1.1,0]];
const kdeMnLIM=[[-.11,0],[.25,.2],[.37,1],[.48,3],[.59,5.5],[.66,6.8],[.75,7.3],[.86,6],[1,3.5],[1.14,1.5],[1.3,.5],[1.5,.15],[3.4,0]];
const kdeMnSAP=[[-.02,0],[.03,6],[.08,50],[.12,69],[.17,55],[.22,25],[.29,14],[.37,9],[.48,6],[.59,3],[.7,1.2],[.86,.3],[1.3,0]];
const kdeMnBRK=[[.01,0],[.04,15],[.08,80],[.1,95],[.12,80],[.15,30],[.2,8],[.27,1],[.37,0]];
const kdeCaLIM=[[-.17,0],[-.08,8],[-.03,60],[.02,95],[.07,60],[.12,18],[.2,4],[.36,1],[.6,.3],[1.14,0]];
const kdeCaSAP=[[-.21,0],[-.05,3],[.08,18],[.2,32],[.31,36.7],[.45,32],[.6,22],[.78,12],[.94,6],[1.14,2.5],[1.44,1],[1.85,.3],[2.4,.1],[5.1,0]];
const kdeCaBRK=[[-.18,0],[-.02,1],[.12,4],[.28,7],[.41,8.2],[.58,7],[.75,4],[.94,2],[1.14,.8],[1.44,.1],[1.77,0]];

const classes=['LIM','SAP','BRK'];
const colors={LIM:'#ff0000',SAP:'#58ff84',BRK:'#55ffff'};
const rowsOf={LIM:limRows,SAP:sapRows,BRK:brkRows};
const kdes=[
 {LIM:kdeNiLIM,SAP:kdeNiSAP,BRK:kdeNiBRK},{LIM:kdeCoLIM,SAP:kdeCoSAP,BRK:kdeCoBRK},{LIM:kdeFeLIM,SAP:kdeFeSAP,BRK:kdeFeBRK},
 {LIM:kdeSiLIM,SAP:kdeSiSAP,BRK:kdeSiBRK},{LIM:kdeMgLIM,SAP:kdeMgSAP,BRK:kdeMgBRK},{LIM:kdeCrLIM,SAP:kdeCrSAP,BRK:kdeCrBRK},
 {LIM:kdeAlLIM,SAP:kdeAlSAP,BRK:kdeAlBRK},{LIM:kdeMnLIM,SAP:kdeMnSAP,BRK:kdeMnBRK},{LIM:kdeCaLIM,SAP:kdeCaSAP,BRK:kdeCaBRK}];

const FONT='"DejaVu Sans"', FS=47, LW=3.5, TICK=16;
const grids=[],xAxes=[],yAxes=[],series=[];
const axisLine={show:true,onZero:false,lineStyle:{color:'#000',width:LW}};
for(let r=0;r<9;r++)for(let c=0;c<=r;c++){
  const idx=grids.length, diag=r===c;
  grids.push({left:219+321.5*c,top:13+325.5*r,width:247,height:262,containLabel:false});
  const xfmt=v=>v.toFixed(xDecimals[c]), yfmt=v=>v.toFixed(yDecimals[r]);
  xAxes.push({gridIndex:idx,type:'value',min:xLimits[c][0],max:xLimits[c][1],splitLine:{show:false},axisLine,
    axisTick:{show:true,length:TICK,customValues:xTicks[c],lineStyle:{color:'#000',width:LW}},
    axisLabel:{show:r===8,customValues:xTicks[c],formatter:xfmt,margin:28,fontFamily:FONT,fontSize:FS,color:'#000',hideOverlap:false},
    name:r===8?variables[c]:'',nameLocation:'middle',nameGap:102,nameTextStyle:{fontFamily:FONT,fontSize:FS,color:'#000'}});
  yAxes.push({gridIndex:idx,type:'value',min:diag?0:yLimits[r][0],max:diag?100:yLimits[r][1],splitLine:{show:false},show:!diag,
    axisLine:{...axisLine},
    axisTick:{show:true,length:TICK,customValues:yTicks[r],lineStyle:{color:'#000',width:LW}},
    axisLabel:{show:c===0,customValues:yTicks[r],formatter:yfmt,margin:34,fontFamily:FONT,fontSize:FS,color:'#000',hideOverlap:false},
    name:c===0?variables[r]:'',nameLocation:'middle',nameRotate:90,nameGap:yNameGaps[r],nameTextStyle:{fontFamily:FONT,fontSize:FS,color:'#000'}});
  if(diag){
    ['BRK','SAP','LIM'].forEach(k=>series.push({type:'line',name:k,xAxisIndex:idx,yAxisIndex:idx,data:kdes[c][k],showSymbol:false,smooth:.35,smoothMonotone:'x',clip:false,silent:true,
      lineStyle:{color:colors[k],width:4.2},itemStyle:{color:colors[k]},areaStyle:{color:colors[k],opacity:.25}}));
  }else{
    classes.forEach(k=>series.push({type:'scatter',name:k,xAxisIndex:idx,yAxisIndex:idx,symbolSize:8,silent:true,itemStyle:{color:colors[k],opacity:1},
      data:rowsOf[k].map(row=>[row[c],row[r]])}));
  }
}
const chart=echarts.init(document.getElementById('c'),null,{renderer:'canvas'});
chart.setOption({animation:false,backgroundColor:'#fff',grid:grids,xAxis:xAxes,yAxis:yAxes,series,
  title:{text:'LYR_WF-cat',left:3102,top:1395,padding:0,textStyle:{fontFamily:FONT,fontSize:47,fontWeight:'normal',color:'#000'}},
  legend:{orient:'vertical',left:3164,top:1464,padding:0,data:classes,icon:'circle',itemWidth:168,itemHeight:7,itemGap:22,selectedMode:false,
    textStyle:{fontFamily:FONT,fontSize:FS,color:'#000',padding:[0,0,0,0]}},
  tooltip:{show:false}});
</script></body></html>
